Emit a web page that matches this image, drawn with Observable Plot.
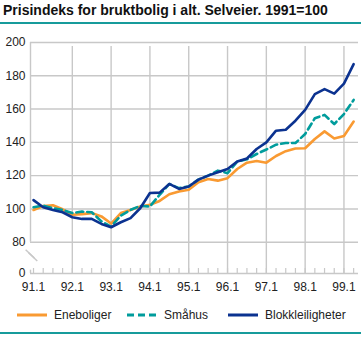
<!DOCTYPE html>
<html><head><meta charset="utf-8">
<script src="https://cdn.jsdelivr.net/npm/d3@7"></script>
<script src="https://cdn.jsdelivr.net/npm/@observablehq/plot@0.6"></script>
<style>
body{margin:0;background:#fff;font-family:"Liberation Sans",Arial,sans-serif;}
#wrap{width:361px;height:337px;position:relative;overflow:hidden;background:#fff}
#title{position:absolute;left:3px;top:2px;font-size:14px;font-weight:bold;color:#111;white-space:nowrap}
#tline{position:absolute;left:0;top:22px;width:361px;height:2px;background:#169b9b}
#chart{position:absolute;left:0;top:26px}
#legend{position:absolute;left:0;top:306px;width:361px;height:18px;font-size:12px;color:#222}
.item{position:absolute;top:0;display:flex;align-items:center;height:18px}
.item svg{margin-right:7px}
#bline{position:absolute;left:0;top:332px;width:361px;height:2px;background:#169b9b}
</style>
</head><body>
<div id="wrap">
  <div id="title">Prisindeks for bruktbolig i alt. Selveier. 1991=100</div>
  <div id="tline"></div>
  <div id="chart"></div>
  <div id="legend"></div>
  <div id="bline"></div>
</div>
<script>
const quarters = ["91.1","91.2","91.3","91.4","92.1","92.2","92.3","92.4","93.1","93.2","93.3","93.4",
  "94.1","94.2","94.3","94.4","95.1","95.2","95.3","95.4","96.1","96.2","96.3","96.4",
  "97.1","97.2","97.3","97.4","98.1","98.2","98.3","98.4","99.1","99.2"];
const eneboliger = [99.4,101.8,102.2,99.8,96.5,96.9,97.5,95.5,91.2,97.5,99.4,101.4,
  102.5,104.8,108.8,110.5,111.5,116,118,117,118.5,124,127.8,128.8,
  127.8,131.8,134.7,136.3,136.5,142,146.6,142.3,143.8,152.5];
const smahus = [101,102,100.4,99.4,97.5,98.4,98,92.5,89.4,96,99.4,101.8,
  101.5,108.5,115,112.5,113.5,117.6,120,123,121.5,128.4,129.8,133,
  135.7,138.6,139.6,139.6,145,154.5,156.5,151,157,165.5];
const blokkleiligheter = [105.3,101,99.4,98,95,94,94,91,89,92,94.5,100.4,
  109.6,109.8,115,112,113.5,117.6,120,122,124,128.5,130.3,136,
  140,147,147.6,153,159.5,169,172,169.3,175.3,187];
const seriesNames = ["Eneboliger","Småhus","Blokkleiligheter"];
const seriesValues = [eneboliger, smahus, blokkleiligheter];
const seriesColors = ["#f99a32","#009c9c","#0b3290"];
const seriesDash = [null,"7,4",null];
const yTicks = [80,100,120,140,160,180,200];
const yTopOfBreak = 80;
const yBaseLabel = "0";
const yBase = 61.2; // scale position of the "0" baseline below the axis break
const xTickIdx = [0,4,8,12,16,20,24,28,32];

const xMin = -0.31, xMax = 33.5;
const grid = "#c8c8c8";

const marks = [
  Plot.ruleY(yTicks, {stroke: grid, strokeWidth: 1.4}),
  Plot.ruleY([yBase], {stroke: grid, strokeWidth: 1.4}),
  Plot.ruleX(xTickIdx.slice(1), {y1: yBase, y2: 200, stroke: grid, strokeWidth: 1.4, insetBottom: -4}),
  Plot.ruleX([xMin], {y1: yTopOfBreak, y2: 200, stroke: grid, strokeWidth: 1.4}),
  Plot.ruleX([xMin], {y1: yBase, y2: yBase + 2, stroke: grid, strokeWidth: 1.4}),
  Plot.ruleX(quarters.map((q, i) => i), {y1: yBase, y2: yBase + 3, stroke: grid, strokeWidth: 1.2}),
  Plot.link([{o: 0}, {o: 1}], {
    x1: d => xMin - 0.5 + d.o * 0.3, x2: d => xMin + 0.4 + d.o * 0.3,
    y1: d => yTopOfBreak - 4.5 - d.o * 1.8, y2: d => yTopOfBreak - 9.5 - d.o * 1.8,
    stroke: grid, strokeWidth: 1.5
  }),
  ...seriesNames.map((s, k) => Plot.line(seriesValues[k].map((v, i) => ({i, v})), {
    x: "i", y: "v", stroke: seriesColors[k], strokeWidth: 2.6,
    strokeDasharray: seriesDash[k] || undefined, strokeLinejoin: "round"
  })),
  Plot.axisY([yBase, ...yTicks], {tickSize: 0, tickPadding: 5, fontSize: 12, fill: "#222", label: null,
    tickFormat: d => d === yBase ? yBaseLabel : String(d)}),
  Plot.axisX(xTickIdx, {tickSize: 0, tickPadding: 9, fontSize: 12, fill: "#222", label: null,
    tickFormat: i => quarters[i]})
];

const chart = Plot.plot({
  width: 361, height: 270,
  marginLeft: 30, marginRight: 3, marginTop: 16, marginBottom: 23,
  style: {fontFamily: '"Liberation Sans", Arial, sans-serif', background: "#fff"},
  x: {type: "linear", domain: [xMin, xMax]},
  y: {type: "linear", domain: [yBase, 200]},
  marks
});
document.getElementById("chart").appendChild(chart);

const legendLefts = [17, 127, 228];
const legend = document.getElementById("legend");
seriesNames.forEach((s, k) => {
  const item = document.createElement("div");
  item.className = "item";
  item.style.left = legendLefts[k] + "px";
  const dash = seriesDash[k] ? `stroke-dasharray="${seriesDash[k]}"` : "";
  item.innerHTML = `<svg width="30" height="6"><line x1="0" y1="3" x2="30" y2="3" stroke="${seriesColors[k]}" stroke-width="3" ${dash}/></svg><span>${s}</span>`;
  legend.appendChild(item);
});
</script>
</body></html>
